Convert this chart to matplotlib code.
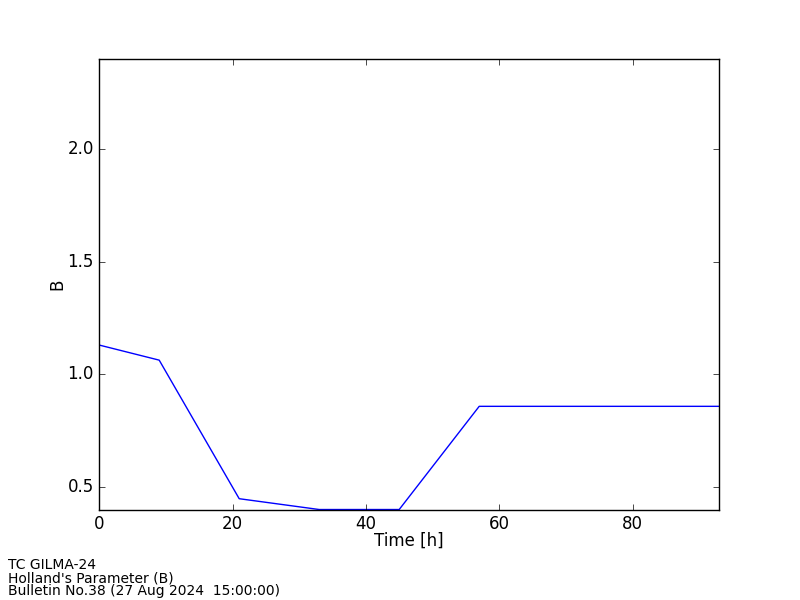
import matplotlib
matplotlib.use("Agg")
import matplotlib.pyplot as plt

plt.style.use("classic")
plt.rcParams["font.family"] = ["DejaVu Sans"]

time_h = [0, 9, 21, 33, 45, 57, 69, 81, 93]
b_param = [1.13, 1.063, 0.448, 0.40, 0.40, 0.858, 0.858, 0.858, 0.858]
info_lines = ["TC GILMA-24", "Holland's Parameter (B)", "Bulletin No.38 (27 Aug 2024  15:00:00)"]

fig = plt.figure(figsize=(8, 6), dpi=100, facecolor="white")
ax = fig.add_axes([0.124, 0.1508, 0.775, 0.751])
ax.plot(time_h, b_param, color="blue", linewidth=1)
ax.set_xlim(0, 93)
ax.set_ylim(0.4, 2.4)
ax.set_xticks([0, 20, 40, 60, 80])
ax.set_yticks([0.5, 1.0, 1.5, 2.0])
ax.set_xlabel("Time [h]", fontsize=12, labelpad=-1)
ax.set_ylabel("B", fontsize=12, labelpad=0.5)
ax.tick_params(labelsize=12)

fig.text(0.01, 0.004, "\n".join(info_lines), fontsize=10, ha="left", va="bottom", linespacing=0.87)

fig.savefig("out.png", dpi=100, facecolor="white")
